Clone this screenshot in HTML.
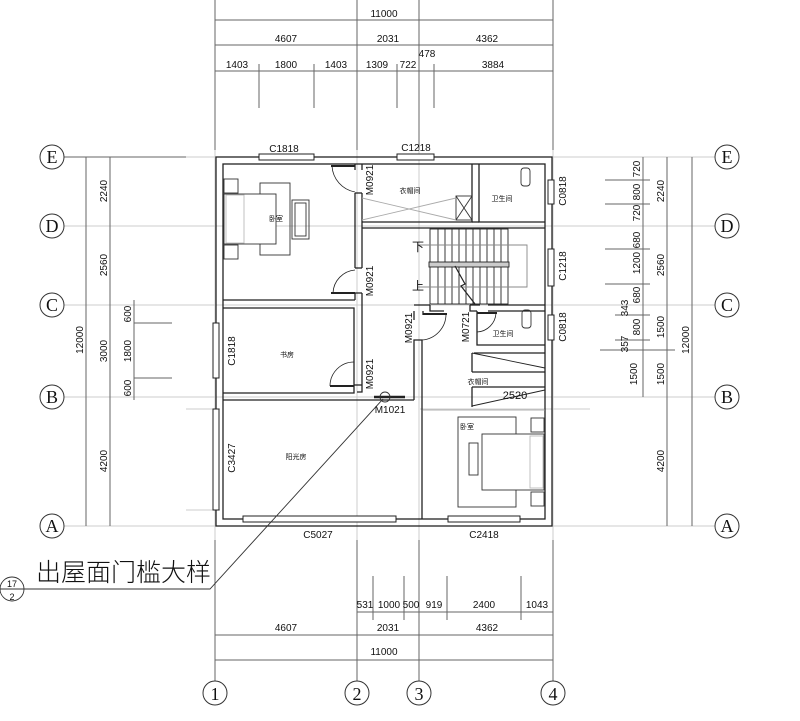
<!DOCTYPE html>
<html><head><meta charset="utf-8"><style>
html,body{margin:0;padding:0;background:#fff;}
svg{display:block;}
text{font-family:"Liberation Sans","Noto Sans CJK SC",sans-serif;fill:#111;}
</style></head><body>
<svg width="800" height="721" viewBox="0 0 800 721" xmlns="http://www.w3.org/2000/svg">
<g stroke="#ccc" stroke-width="1" fill="none">
<line x1="64" y1="157" x2="715" y2="157"/><line x1="64" y1="226" x2="715" y2="226"/>
<line x1="64" y1="305" x2="715" y2="305"/><line x1="64" y1="397" x2="715" y2="397"/>
<line x1="64" y1="526" x2="715" y2="526"/>
<line x1="215" y1="0" x2="215" y2="681"/><line x1="357" y1="0" x2="357" y2="681"/>
<line x1="419" y1="0" x2="419" y2="681"/><line x1="553" y1="0" x2="553" y2="681"/>
<line x1="186" y1="409" x2="220" y2="409"/><line x1="186" y1="510" x2="220" y2="510"/>
<line x1="420" y1="409" x2="590" y2="409"/>
</g>
<g stroke="#666" stroke-width="1" fill="none">
<line x1="215" y1="20" x2="553" y2="20"/><line x1="215" y1="45" x2="553" y2="45"/><line x1="215" y1="71" x2="553" y2="71"/>
<line x1="215" y1="0" x2="215" y2="150"/><line x1="357" y1="0" x2="357" y2="150"/><line x1="419" y1="0" x2="419" y2="150"/><line x1="553" y1="0" x2="553" y2="150"/>
<line x1="259" y1="64" x2="259" y2="108"/><line x1="314" y1="64" x2="314" y2="108"/><line x1="397" y1="64" x2="397" y2="108"/><line x1="434" y1="64" x2="434" y2="108"/>
<line x1="357" y1="612" x2="553" y2="612"/><line x1="215" y1="635" x2="553" y2="635"/><line x1="215" y1="660" x2="553" y2="660"/>
<line x1="215" y1="540" x2="215" y2="681"/><line x1="357" y1="540" x2="357" y2="681"/><line x1="419" y1="540" x2="419" y2="681"/><line x1="553" y1="540" x2="553" y2="681"/>
<line x1="373" y1="576" x2="373" y2="620"/><line x1="404" y1="576" x2="404" y2="620"/><line x1="447" y1="576" x2="447" y2="620"/><line x1="521" y1="576" x2="521" y2="620"/>
<line x1="86" y1="157" x2="86" y2="526"/><line x1="110" y1="157" x2="110" y2="526"/><line x1="134" y1="300" x2="134" y2="400"/>
<line x1="64" y1="157" x2="186" y2="157"/><line x1="134" y1="323" x2="172" y2="323"/><line x1="134" y1="378" x2="172" y2="378"/>
<line x1="643" y1="157" x2="643" y2="397"/><line x1="667" y1="157" x2="667" y2="526"/><line x1="692" y1="157" x2="692" y2="526"/>
<line x1="605" y1="180" x2="650" y2="180"/><line x1="605" y1="204" x2="650" y2="204"/><line x1="605" y1="249" x2="650" y2="249"/><line x1="605" y1="284" x2="650" y2="284"/>
<line x1="615" y1="315" x2="650" y2="315"/><line x1="615" y1="340" x2="650" y2="340"/><line x1="600" y1="350" x2="675" y2="350"/>
</g>
<g stroke="#333" stroke-width="1" fill="#fff">
<circle cx="52" cy="157" r="12"/><circle cx="52" cy="226" r="12"/><circle cx="52" cy="305" r="12"/><circle cx="52" cy="397" r="12"/><circle cx="52" cy="526" r="12"/>
<circle cx="727" cy="157" r="12"/><circle cx="727" cy="226" r="12"/><circle cx="727" cy="305" r="12"/><circle cx="727" cy="397" r="12"/><circle cx="727" cy="526" r="12"/>
<circle cx="215" cy="693" r="12"/><circle cx="357" cy="693" r="12"/><circle cx="419" cy="693" r="12"/><circle cx="553" cy="693" r="12"/>
</g>
<g font-size="18" text-anchor="middle">
<text x="52" y="163" style="font-family:'Liberation Serif'">E</text><text x="52" y="232" style="font-family:'Liberation Serif'">D</text><text x="52" y="311" style="font-family:'Liberation Serif'">C</text><text x="52" y="403" style="font-family:'Liberation Serif'">B</text><text x="52" y="532" style="font-family:'Liberation Serif'">A</text>
<text x="727" y="163" style="font-family:'Liberation Serif'">E</text><text x="727" y="232" style="font-family:'Liberation Serif'">D</text><text x="727" y="311" style="font-family:'Liberation Serif'">C</text><text x="727" y="403" style="font-family:'Liberation Serif'">B</text><text x="727" y="532" style="font-family:'Liberation Serif'">A</text>
<text x="215" y="700" style="font-family:'Liberation Serif'">1</text><text x="357" y="700" style="font-family:'Liberation Serif'">2</text><text x="419" y="700" style="font-family:'Liberation Serif'">3</text><text x="553" y="700" style="font-family:'Liberation Serif'">4</text>
</g>
<g font-size="10" text-anchor="middle">
<text x="384" y="17">11000</text><text x="286" y="42">4607</text><text x="388" y="42">2031</text><text x="487" y="42">4362</text>
<text x="237" y="68">1403</text><text x="286" y="68">1800</text><text x="336" y="68">1403</text><text x="377" y="68">1309</text><text x="408" y="68">722</text><text x="427" y="57">478</text><text x="493" y="68">3884</text>
<text x="384" y="655">11000</text><text x="286" y="631">4607</text><text x="388" y="631">2031</text><text x="487" y="631">4362</text>
<text x="365" y="608">531</text><text x="389" y="608">1000</text><text x="411" y="608">500</text><text x="434" y="608">919</text><text x="484" y="608">2400</text><text x="537" y="608">1043</text>
</g>
<g font-size="10" text-anchor="middle">
<text transform="translate(83,340) rotate(-90)">12000</text>
<text transform="translate(107,191) rotate(-90)">2240</text><text transform="translate(107,265) rotate(-90)">2560</text><text transform="translate(107,351) rotate(-90)">3000</text><text transform="translate(107,461) rotate(-90)">4200</text>
<text transform="translate(131,314) rotate(-90)">600</text><text transform="translate(131,351) rotate(-90)">1800</text><text transform="translate(131,388) rotate(-90)">600</text>
<text transform="translate(640,169) rotate(-90)">720</text><text transform="translate(640,192) rotate(-90)">800</text><text transform="translate(640,213) rotate(-90)">720</text>
<text transform="translate(640,240) rotate(-90)">680</text><text transform="translate(640,263) rotate(-90)">1200</text><text transform="translate(640,295) rotate(-90)">680</text>
<text transform="translate(640,327) rotate(-90)">800</text><text transform="translate(637,374) rotate(-90)">1500</text>
<text transform="translate(628,308) rotate(-90)">343</text><text transform="translate(628,344) rotate(-90)">357</text>
<text transform="translate(664,191) rotate(-90)">2240</text><text transform="translate(664,265) rotate(-90)">2560</text><text transform="translate(664,327) rotate(-90)">1500</text><text transform="translate(664,374) rotate(-90)">1500</text><text transform="translate(664,461) rotate(-90)">4200</text>
<text transform="translate(689,340) rotate(-90)">12000</text>
</g>
<g stroke="#222" stroke-width="1.3" fill="none">
<rect x="216" y="157" width="336" height="369"/>
<rect x="223" y="164" width="322" height="355"/>
<polyline points="223,300 355,300"/><polyline points="223,308 354,308 354,393 223,393"/>
<polyline points="223,400 414,400"/>
<polyline points="355,164 355,170"/><polyline points="362,164 362,170"/>
<polyline points="355,193 355,268"/><polyline points="362,193 362,268"/><line x1="355" y1="193" x2="362" y2="193"/><line x1="355" y1="268" x2="362" y2="268"/>
<polyline points="355,293 355,300"/><polyline points="362,293 362,392 357,392"/><line x1="355" y1="293" x2="362" y2="293"/>
<polyline points="354,385 362,385"/>
<polyline points="362,222 472,222 472,164"/><polyline points="362,228 545,228"/><polyline points="479,164 479,222 545,222"/>
<line x1="472" y1="222" x2="479" y2="222"/>
<polyline points="414,400 414,340 422,340 422,519"/>
<polyline points="414,305 430,305"/>
<polyline points="414,311 414,320"/><polyline points="423,311 423,315"/>
<polyline points="430,305 430,311 444,311"/>
<polyline points="470,305 470,311 477,311"/>
<polyline points="477,311 477,345 545,345"/>
<polyline points="488,311 545,311"/><line x1="545" y1="305" x2="488" y2="305"/>
<line x1="470" y1="305" x2="480" y2="305"/>
<polyline points="474,353 545,353"/>
<line x1="472" y1="353" x2="472" y2="372"/><line x1="472" y1="372" x2="545" y2="372"/>
<line x1="472" y1="353" x2="545" y2="368" stroke-width="0.9"/>
<polyline points="472,387 545,387"/><line x1="472" y1="387" x2="472" y2="407"/>
<line x1="472" y1="406" x2="545" y2="390" stroke-width="0.9"/>
<line x1="423" y1="410" x2="545" y2="410" stroke="#999" stroke-width="0.8"/>
<path d="M332,166 A28,28 0 0,0 355,192" stroke-width="0.8"/><line x1="331" y1="166" x2="355" y2="166" stroke-width="2"/>
<path d="M333,293 A24,24 0 0,1 355,270" stroke-width="0.8"/><line x1="331" y1="293" x2="355" y2="293" stroke-width="2"/>
<path d="M330,386 A24,24 0 0,1 354,362" stroke-width="0.8"/><line x1="330" y1="386" x2="354" y2="386" stroke-width="2"/>
<path d="M422,340 A26,26 0 0,0 446,314" stroke-width="0.8"/><line x1="423" y1="314" x2="447" y2="314" stroke-width="2"/>
<path d="M477,332 A20,20 0 0,0 496,313" stroke-width="0.8"/><line x1="477" y1="313" x2="497" y2="313" stroke-width="2"/>
<line x1="374" y1="397" x2="405" y2="397" stroke-width="2.5"/>
</g>
<g stroke="#222" stroke-width="1" fill="#fff">
<rect x="259" y="154" width="55" height="6"/><rect x="397" y="154" width="37" height="6"/>
<rect x="243" y="516" width="153" height="6"/><rect x="448" y="516" width="72" height="6"/>
<rect x="213" y="323" width="6" height="55"/><rect x="213" y="409" width="6" height="101"/>
<rect x="548" y="180" width="6" height="24"/><rect x="548" y="249" width="6" height="37"/><rect x="548" y="315" width="6" height="25"/>
</g>
<g stroke="#222" stroke-width="0.9" fill="none">
<rect x="430" y="229" width="78" height="75"/>
<line x1="438" y1="229" x2="438" y2="304"/><line x1="445" y1="229" x2="445" y2="304"/><line x1="452" y1="229" x2="452" y2="304"/><line x1="459" y1="229" x2="459" y2="304"/><line x1="466" y1="229" x2="466" y2="304"/><line x1="473" y1="229" x2="473" y2="304"/><line x1="480" y1="229" x2="480" y2="304"/><line x1="487" y1="229" x2="487" y2="304"/><line x1="494" y1="229" x2="494" y2="304"/><line x1="501" y1="229" x2="501" y2="304"/>
<rect x="429" y="262" width="80" height="5" fill="#ccc"/>
<polyline points="418,245 527,245 527,287 418,287" stroke="#888"/>
<polyline points="455,266 465,284 461,286 475,304" stroke-width="1.2"/>
</g>
<g stroke="#333" stroke-width="0.9" fill="none">
<rect x="224" y="179" width="14" height="14"/><rect x="224" y="245" width="14" height="14"/>
<rect x="260" y="183" width="30" height="72"/><rect x="224" y="194" width="52" height="50" fill="#fff"/>
<rect x="226" y="195" width="18" height="48" stroke="#bbb"/>
<rect x="292" y="200" width="17" height="39"/><rect x="295" y="203" width="11" height="33"/>
<rect x="458" y="417" width="58" height="90"/>
<rect x="482" y="434" width="62" height="56" fill="#fff"/><rect x="530" y="436" width="13" height="52" stroke="#bbb"/>
<rect x="531" y="418" width="13" height="14"/><rect x="531" y="492" width="13" height="14"/>
<rect x="469" y="443" width="9" height="32"/>
<rect x="521" y="168" width="9" height="18" rx="3"/><rect x="522" y="310" width="9" height="18" rx="3"/>
<rect x="456" y="196" width="16" height="24"/><line x1="456" y1="196" x2="472" y2="220"/><line x1="472" y1="196" x2="456" y2="220"/>
<line x1="362" y1="198" x2="456" y2="220" stroke="#aaa"/><line x1="362" y1="220" x2="456" y2="198" stroke="#aaa"/>
</g>
<g font-size="10" text-anchor="middle">
<text x="284" y="152">C1818</text><text x="416" y="151">C1218</text>
<text x="318" y="538">C5027</text><text x="484" y="538">C2418</text>
<text x="390" y="413">M1021</text><text x="515" y="399" font-size="11">2520</text>
<text transform="translate(373,180) rotate(-90)">M0921</text>
<text transform="translate(373,281) rotate(-90)">M0921</text>
<text transform="translate(373,374) rotate(-90)">M0921</text>
<text transform="translate(412,328) rotate(-90)">M0921</text>
<text transform="translate(469,327) rotate(-90)">M0721</text>
<text transform="translate(566,191) rotate(-90)">C0818</text>
<text transform="translate(566,266) rotate(-90)">C1218</text>
<text transform="translate(566,327) rotate(-90)">C0818</text>
<text transform="translate(235,351) rotate(-90)">C1818</text>
<text transform="translate(235,458) rotate(-90)">C3427</text>
</g>
<g font-size="7" text-anchor="middle">
<text x="276" y="221">卧室</text><text x="410" y="193">衣帽间</text><text x="502" y="201">卫生间</text>
<text x="287" y="357">书房</text><text x="296" y="459">阳光房</text><text x="503" y="336">卫生间</text>
<text x="478" y="384">衣帽间</text><text x="467" y="429">卧室</text>
</g>
<text x="418" y="251" font-size="12" text-anchor="middle">下</text>
<text x="418" y="290" font-size="12" text-anchor="middle">上</text>
<g stroke="#333" stroke-width="0.9" fill="none">
<circle cx="385" cy="397" r="5"/>
<polyline points="383,399 210,589 24,589"/>
<circle cx="12" cy="589" r="12" fill="#fff"/>
<line x1="0" y1="589" x2="24" y2="589"/>
</g>
<text x="12" y="587" font-size="9" text-anchor="middle">17</text>
<text x="12" y="600" font-size="9" text-anchor="middle">2</text>
<text x="36" y="581" font-size="25" style="font-family:'Noto Sans CJK SC',sans-serif;font-weight:300">出屋面门槛大样</text>
</svg>
</body></html>
